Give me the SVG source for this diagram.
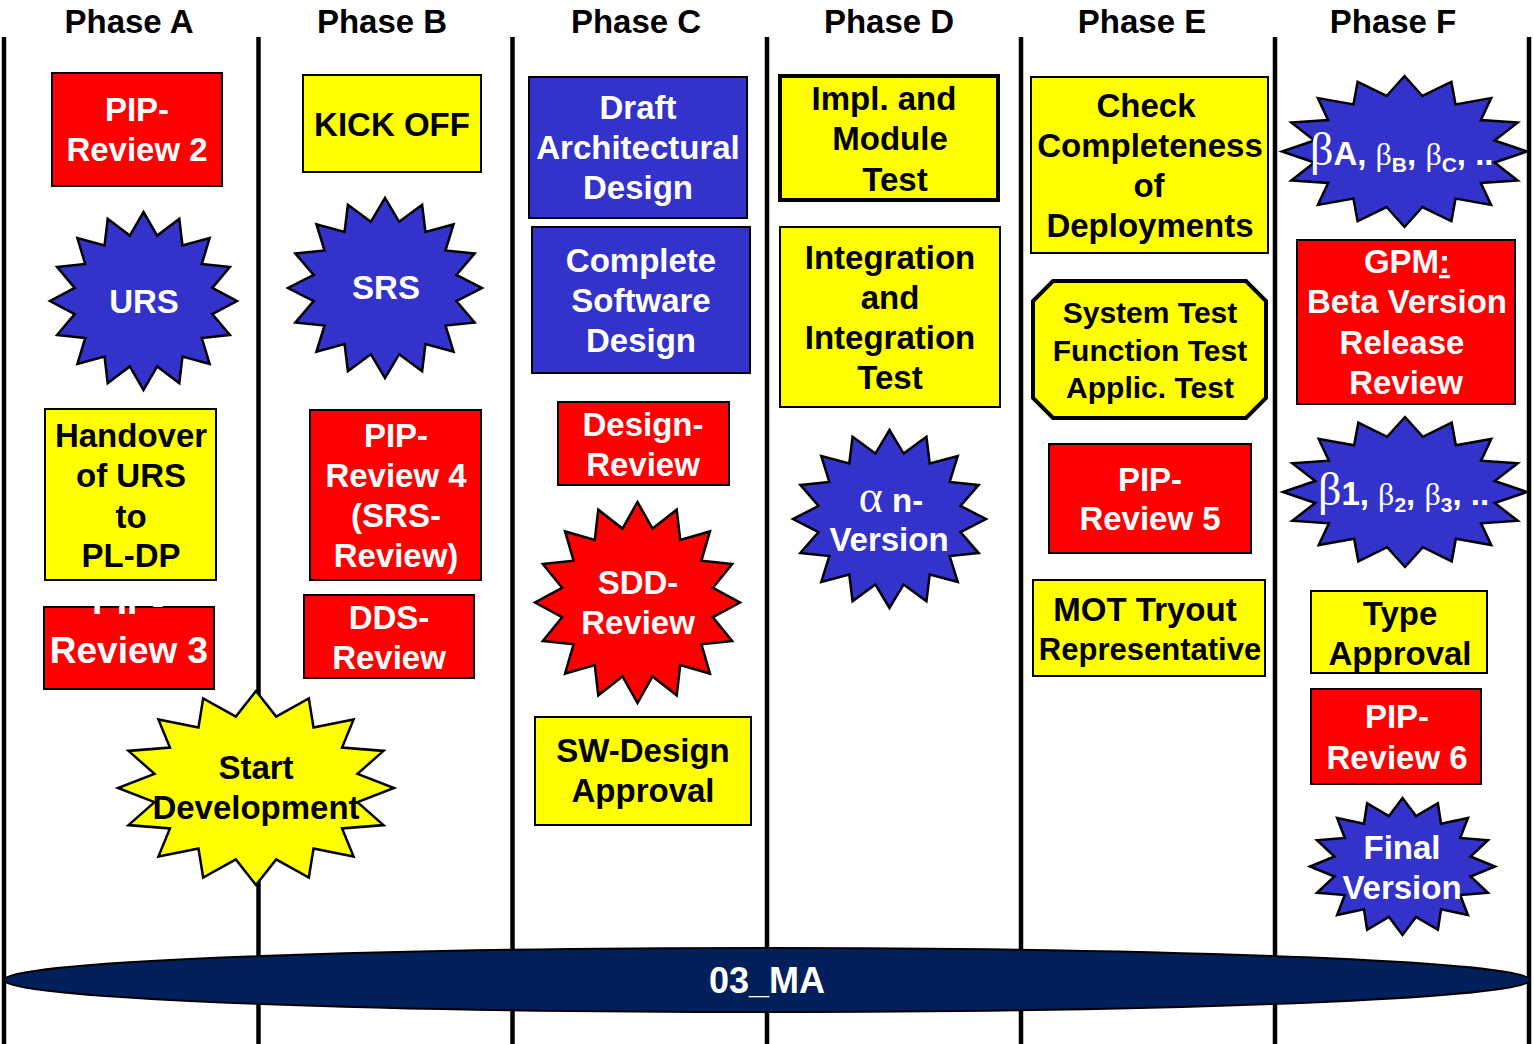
<svg xmlns="http://www.w3.org/2000/svg" xmlns:xlink="http://www.w3.org/1999/xlink" width="1534" height="1044" viewBox="0 0 1534 1044">
<style>
.t{font-family:"Liberation Sans",Arial,sans-serif;font-weight:bold;font-size:33px;text-anchor:middle}
.w{fill:#fff}
.k{fill:#000}
.s{font-family:"Liberation Serif","Times New Roman",serif;font-weight:normal}
.red{fill:#ff0000;stroke:#000;stroke-width:2}
.yel{fill:#ffff00;stroke:#000;stroke-width:2}
.blu{fill:#3333cc;stroke:#000;stroke-width:2}
.thick{stroke-width:4}
.phase{stroke:#000;stroke-width:4.5;fill:none}
.star{stroke:#000;stroke-width:2.5;stroke-linejoin:miter}
</style>
<defs>
<path id="star16" vector-effect="non-scaling-stroke" d="M0,-1 L.14632,-.73559 L.38268,-.92388 L.41668,-.6236 L.70711,-.70711 L.6236,-.41668 L.92388,-.38268 L.73559,-.14632 L1,0 L.73559,.14632 L.92388,.38268 L.6236,.41668 L.70711,.70711 L.41668,.6236 L.38268,.92388 L.14632,.73559 L0,1 L-.14632,.73559 L-.38268,.92388 L-.41668,.6236 L-.70711,.70711 L-.6236,.41668 L-.92388,.38268 L-.73559,.14632 L-1,0 L-.73559,-.14632 L-.92388,-.38268 L-.6236,-.41668 L-.70711,-.70711 L-.41668,-.6236 L-.38268,-.92388 L-.14632,-.73559 Z"/>
</defs>
<rect width="1534" height="1044" fill="#fff"/>

<g id="connectors">
<line class="phase" x1="4" y1="37" x2="4" y2="1044"/>
<line class="phase" x1="258.5" y1="37" x2="258.5" y2="1044"/>
<line class="phase" x1="512.5" y1="37" x2="512.5" y2="1044"/>
<line class="phase" x1="767" y1="37" x2="767" y2="1044"/>
<line class="phase" x1="1021" y1="37" x2="1021" y2="1044"/>
<line class="phase" x1="1275" y1="37" x2="1275" y2="1044"/>
<line class="phase" x1="1529" y1="37" x2="1529" y2="1044"/>
</g>

<g id="headers">
<text class="t k" x="129" y="33">Phase A</text>
<text class="t k" x="382" y="33">Phase B</text>
<text class="t k" x="636" y="33">Phase C</text>
<text class="t k" x="889" y="33">Phase D</text>
<text class="t k" x="1142" y="33">Phase E</text>
<text class="t k" x="1393" y="33">Phase F</text>
</g>

<g id="ma">
<ellipse cx="767" cy="980" rx="763" ry="32" fill="#001f5b" stroke="#000" stroke-width="2"/>
<text class="t w" x="767" y="993" style="font-size:36px">03_MA</text>
</g>

<!-- Phase A -->
<g id="pip2">
<rect class="red" x="52" y="73" width="170" height="113"/>
<text class="t w" x="137" y="121">PIP-</text>
<text class="t w" x="137" y="161">Review 2</text>
</g>
<g id="urs">
<use xlink:href="#star16" class="star" fill="#3333cc" transform="translate(143.5,301) scale(93.5,89)"/>
<text class="t w" x="144" y="313">URS</text>
</g>
<g id="handover">
<rect class="yel" x="45" y="409" width="171" height="171"/>
<text class="t k" x="131" y="447">Handover</text>
<text class="t k" x="131" y="487">of URS</text>
<text class="t k" x="131" y="528">to</text>
<text class="t k" x="131" y="567">PL-DP</text>
</g>
<g id="pip3">
<rect class="red" x="44" y="607" width="170" height="82"/>
<text class="t w" x="128" y="614" style="font-size:37px">PIP-</text>
<text class="t w" x="129" y="663" style="font-size:37px">Review 3</text>
</g>
<g id="startdev">
<use xlink:href="#star16" class="star" fill="#ffff00" transform="translate(256,788) scale(138,97)"/>
<text class="t k" x="256" y="779">Start</text>
<text class="t k" x="256" y="819">Development</text>
</g>

<!-- Phase B -->
<g id="kickoff">
<rect class="yel" x="303" y="75" width="178" height="97"/>
<text class="t k" x="392" y="136">KICK OFF</text>
</g>
<g id="srs">
<use xlink:href="#star16" class="star" fill="#3333cc" transform="translate(385,288) scale(97,90)"/>
<text class="t w" x="386" y="299">SRS</text>
</g>
<g id="pip4">
<rect class="red" x="310" y="410" width="171" height="170"/>
<text class="t w" x="396" y="447">PIP-</text>
<text class="t w" x="396" y="487">Review 4</text>
<text class="t w" x="396" y="527">(SRS-</text>
<text class="t w" x="396" y="567">Review)</text>
</g>
<g id="dds">
<rect class="red" x="304" y="595" width="170" height="83"/>
<text class="t w" x="389" y="629">DDS-</text>
<text class="t w" x="389" y="669">Review</text>
</g>

<!-- Phase C -->
<g id="draft">
<rect class="blu" x="529" y="77" width="218" height="141"/>
<text class="t w" x="638" y="119">Draft</text>
<text class="t w" x="638" y="159">Architectural</text>
<text class="t w" x="638" y="199">Design</text>
</g>
<g id="complete">
<rect class="blu" x="532" y="227" width="218" height="146"/>
<text class="t w" x="641" y="272">Complete</text>
<text class="t w" x="641" y="312">Software</text>
<text class="t w" x="641" y="352">Design</text>
</g>
<g id="designreview">
<rect class="red" x="558" y="402" width="171" height="83"/>
<text class="t w" x="643" y="436">Design-</text>
<text class="t w" x="643" y="476">Review</text>
</g>
<g id="sdd">
<use xlink:href="#star16" class="star" fill="#ff0000" transform="translate(637.5,602.5) scale(102.5,100.5)"/>
<text class="t w" x="638" y="594">SDD-</text>
<text class="t w" x="638" y="634">Review</text>
</g>
<g id="swdesign">
<rect class="yel" x="535" y="717" width="216" height="108"/>
<text class="t k" x="643" y="762">SW-Design</text>
<text class="t k" x="643" y="802">Approval</text>
</g>

<!-- Phase D -->
<g id="impl">
<rect class="yel thick" x="780" y="76" width="218" height="124"/>
<text class="t k" x="884" y="110">Impl. and</text>
<text class="t k" x="890" y="150">Module</text>
<text class="t k" x="895" y="191">Test</text>
</g>
<g id="integration">
<rect class="yel" x="780" y="227" width="220" height="180"/>
<text class="t k" x="890" y="269">Integration</text>
<text class="t k" x="890" y="309">and</text>
<text class="t k" x="890" y="349">Integration</text>
<text class="t k" x="890" y="389">Test</text>
</g>
<g id="alpha">
<use xlink:href="#star16" class="star" fill="#3333cc" transform="translate(889.5,519) scale(96.5,89)"/>
<text class="t w" x="891" y="512"><tspan class="s" style="font-size:46px">α</tspan> n-</text>
<text class="t w" x="889" y="551">Version</text>
</g>

<!-- Phase E -->
<g id="check">
<rect class="yel" x="1031" y="77" width="237" height="176"/>
<text class="t k" x="1146" y="117">Check</text>
<text class="t k" x="1150" y="157">Completeness</text>
<text class="t k" x="1149" y="197">of</text>
<text class="t k" x="1150" y="237">Deployments</text>
</g>
<g id="systemtest">
<polygon class="yel thick" points="1053,281 1246,281 1266,301 1266,398 1246,418 1053,418 1033,398 1033,301"/>
<text class="t k" x="1150" y="323" style="font-size:30px">System Test</text>
<text class="t k" x="1150" y="361" style="font-size:30px">Function Test</text>
<text class="t k" x="1150" y="398" style="font-size:30px">Applic. Test</text>
</g>
<g id="pip5">
<rect class="red" x="1049" y="444" width="202" height="109"/>
<text class="t w" x="1150" y="491">PIP-</text>
<text class="t w" x="1150" y="530">Review 5</text>
</g>
<g id="mot">
<rect class="yel" x="1033" y="580" width="232" height="96"/>
<text class="t k" x="1145" y="621">MOT Tryout</text>
<text class="t k" x="1150" y="660" style="font-size:31px">Representative</text>
</g>

<!-- Phase F -->
<g id="betaA">
<use xlink:href="#star16" class="star" fill="#3333cc" transform="translate(1404.5,151.5) scale(122.5,75.5)"/>
<text class="t w" x="1310" y="165" style="text-anchor:start"><tspan class="s" style="font-size:46px">β</tspan>A, <tspan class="s" style="font-size:32px">β</tspan><tspan style="font-size:21px" dy="7">B</tspan><tspan dy="-7">, </tspan><tspan class="s" style="font-size:32px">β</tspan><tspan style="font-size:21px" dy="7">C</tspan><tspan dy="-7">, ..</tspan></text>
</g>
<g id="gpm">
<rect class="red" x="1297" y="240" width="218" height="164"/>
<text class="t w" x="1407" y="273">GPM<tspan text-decoration="underline">:</tspan></text>
<text class="t w" x="1407" y="313">Beta Version</text>
<text class="t w" x="1402" y="354">Release</text>
<text class="t w" x="1406" y="394">Review</text>
</g>
<g id="beta1">
<use xlink:href="#star16" class="star" fill="#3333cc" transform="translate(1405,492) scale(122,75)"/>
<text class="t w" x="1318" y="505" style="text-anchor:start"><tspan class="s" style="font-size:46px">β</tspan>1, <tspan class="s" style="font-size:32px">β</tspan><tspan style="font-size:21px" dy="7">2</tspan><tspan dy="-7">, </tspan><tspan class="s" style="font-size:32px">β</tspan><tspan style="font-size:21px" dy="7">3</tspan><tspan dy="-7">, ..</tspan></text>
</g>
<g id="typeapproval">
<rect class="yel" x="1311" y="591" width="176" height="82"/>
<text class="t k" x="1400" y="625">Type</text>
<text class="t k" x="1400" y="665">Approval</text>
</g>
<g id="pip6">
<rect class="red" x="1311" y="689" width="170" height="95"/>
<text class="t w" x="1397" y="728">PIP-</text>
<text class="t w" x="1397" y="769">Review 6</text>
</g>
<g id="final">
<use xlink:href="#star16" class="star" fill="#3333cc" transform="translate(1402.5,866.5) scale(92.5,68.5)"/>
<text class="t w" x="1402" y="859">Final</text>
<text class="t w" x="1402" y="899">Version</text>
</g>
</svg>
